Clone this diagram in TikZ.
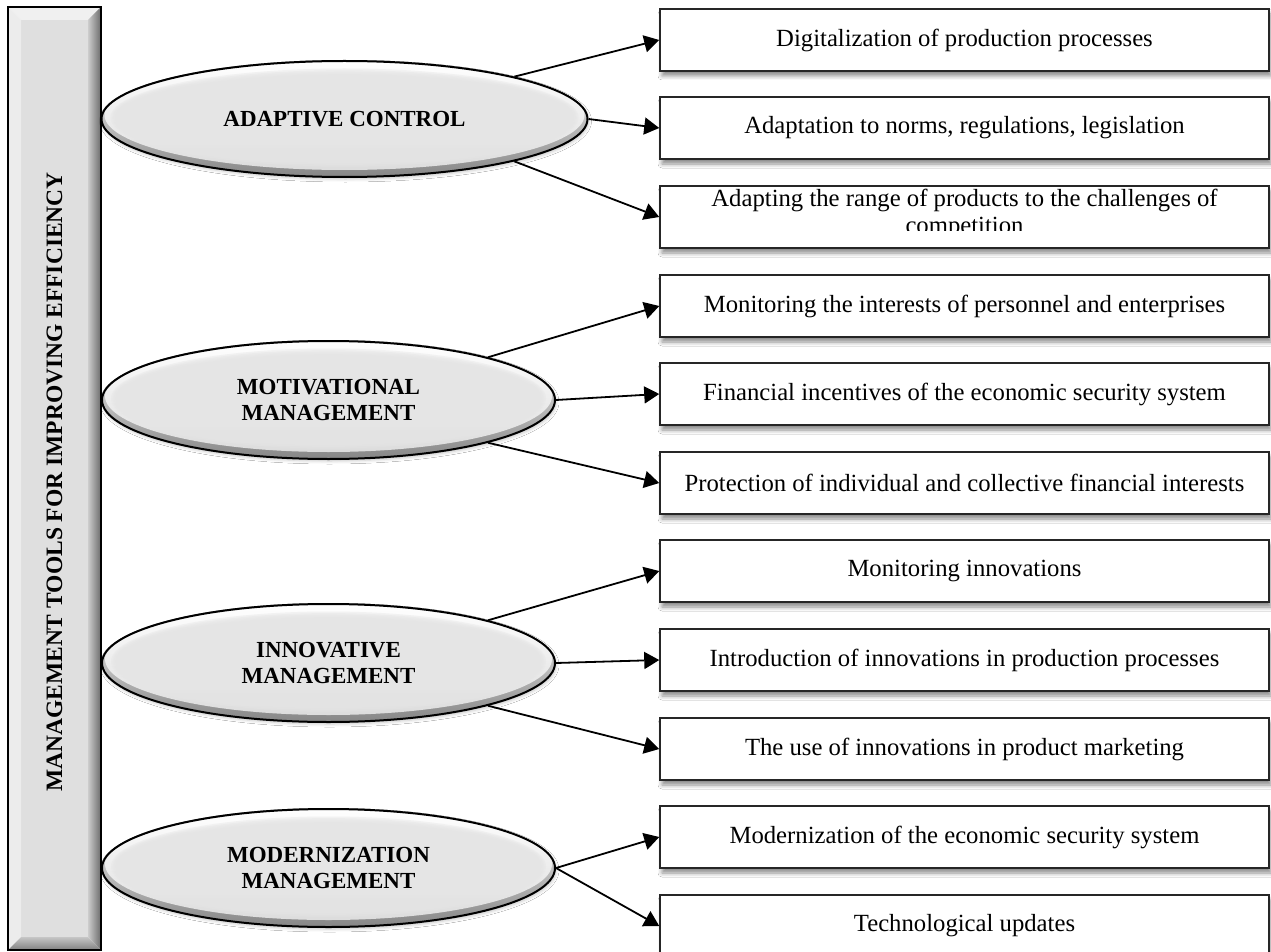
\documentclass[tikz,border=0pt]{standalone}
\usepackage{fontspec}
\setmainfont{Liberation Serif}
\usetikzlibrary{arrows.meta,shapes.geometric,shadows.blur,calc}

\tikzset{
  tool/.style={ellipse, draw=black, line width=2pt, inner sep=0pt, align=center,
    minimum width=453pt, minimum height=118pt,
    font=\fontsize{23}{26}\selectfont\bfseries,
    blur shadow={shadow xshift=1pt, shadow yshift=-2pt, shadow blur radius=3pt, shadow opacity=22},
    path picture={
      \shade[top color=white, middle color=gray!35, bottom color=gray!95]
        (path picture bounding box.south west) rectangle (path picture bounding box.north east);
      \fill[white, opacity=0.7] let \p1=(path picture bounding box.north east),
          \p2=(path picture bounding box.center) in
          ([yshift=4pt]\p2) ellipse [x radius={\x1-\x2-3pt}, y radius={\y1-\y2-3pt}];
      \foreach \k in {0,...,5}{
        \fill[gray!20, opacity=0.42] let \p1=(path picture bounding box.north east),
          \p2=(path picture bounding box.center) in
          ([yshift=1.5pt]\p2) ellipse [x radius={\x1-\x2-9pt-\k*1.6pt}, y radius={\y1-\y2-9pt-\k*1.6pt}];
      }
    }},
  item/.style={rectangle, draw=black!85, line width=1.5pt, fill=white, inner sep=0pt,
    minimum width=609pt, minimum height=62pt, font=\fontsize{24.7}{26}\selectfont,
    blur shadow={shadow xshift=2pt, shadow yshift=-5pt, shadow blur radius=4pt, shadow opacity=45}},
  link/.style={line width=1.8pt, -{Triangle[length=15pt,width=17pt]}}
}

\begin{document}
\begin{tikzpicture}[x=1pt,y=-1pt]
    \clip (0,0) rectangle (1271,952);
    \fill[white] (0,0) rectangle (1271,952);
    % bevelled frame on the left
    \fill[gray!25] (21,20) rectangle (88,937);
    \fill[white!94!black] (8,7)--(101,7)--(88,20)--(21,20)--cycle;
    \fill[gray!15] (8,7)--(21,20)--(21,937)--(8,950)--cycle;
    \shade[left color=gray!40, right color=black!58] (101,7)--(88,20)--(88,937)--(101,950)--cycle;
    \shade[top color=gray!45, bottom color=black!50] (8,950)--(21,937)--(88,937)--(101,950)--cycle;
    \draw[line width=1.8pt] (8,7) rectangle (101,950);
    \node[rotate=90, font=\fontsize{23.5}{26}\selectfont\bfseries] (tools) at (54.5,482) {MANAGEMENT TOOLS FOR IMPROVING EFFICIENCY};

    \node[tool, minimum width=486pt, minimum height=116pt] (e1) at (344.5,119) {ADAPTIVE CONTROL};
    \node[tool] (e2) at (328.5,400) {MOTIVATIONAL\\MANAGEMENT};
    \node[tool] (e3) at (328.5,663) {INNOVATIVE\\MANAGEMENT};
    \node[tool] (e4) at (328.5,868) {MODERNIZATION\\MANAGEMENT};

    \node[item] (b1) at (964.5,40) {Digitalization of production processes};
    \node[item] (b2) at (964.5,128) {Adaptation to norms, regulations, legislation};
    \node[item] (b3) at (964.5,217) {};
    \begin{scope}
    \clip (660,186) rectangle (1269,230);
    \node[anchor=north, align=center, inner sep=0pt, font=\fontsize{24.7}{26.5}\selectfont] (t3) at (964.5,189) {Adapting the range of products to the challenges of\\competition};
    \end{scope}
    \node[item] (b4) at (964.5,306) {Monitoring the interests of personnel and enterprises};
    \node[item] (b5) at (964.5,394) {Financial incentives of the economic security system};
    \node[item] (b6) at (964.5,483) {Protection of individual and collective financial interests};
    \node[item] (b7) at (964.5,571) {Monitoring innovations};
    \node[item] (b8) at (964.5,660) {Introduction of innovations in production processes};
    \node[item] (b9) at (964.5,749) {The use of innovations in product marketing};
    \node[item] (b10) at (964.5,837) {Modernization of the economic security system};
    \node[item] (b11) at (964.5,926) {Technological updates};

    \draw[link] (e1.14) -- (b1.west);
    \draw[link] (e1.east) -- (b2.west);
    \draw[link] (e1.-14) -- (b3.west);
    \draw[link] (e2.15) -- (b4.west);
    \draw[link] (e2.east) -- (b5.west);
    \draw[link] (e2.-15) -- (b6.west);
    \draw[link] (e3.15) -- (b7.west);
    \draw[link] (e3.east) -- (b8.west);
    \draw[link] (e3.-15) -- (b9.west);
    \draw[link] (e4.east) -- (b10.west);
    \draw[link] (e4.east) -- (b11.west);
\end{tikzpicture}
\end{document}
